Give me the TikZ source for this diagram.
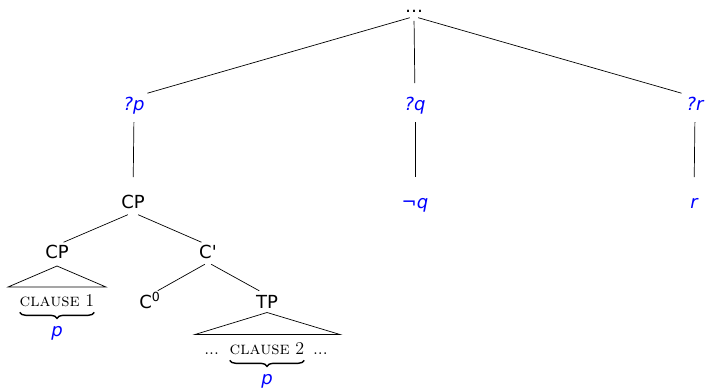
\documentclass[tikz,border=0pt]{standalone}
\usepackage{fontspec}
\newfontfamily\treefont{DejaVu Sans}
\usetikzlibrary{positioning,decorations.pathreplacing}

\begin{document}
\begin{tikzpicture}[
        x=0.025cm,
        y=-0.025cm,
        font={\treefont\fontsize{12.8}{15}\selectfont},
        lbl/.style={inner sep=0pt, outer sep=0pt, anchor=base, text height=9.2pt, text depth=3.2pt},
        var/.style={lbl, blue, font={\treefont\fontsize{12.8}{15}\selectfont\itshape}},
        clause/.style={inner sep=0pt, outer sep=0pt, anchor=base, font={\rmfamily\fontsize{12.8}{15}\selectfont}},
        branch/.style={line width=0.5pt},
        brc/.style={decorate, decoration={brace, mirror, amplitude=4.3pt}, line width=1pt}
    ]
        \useasboundingbox (0,0) rectangle (706,388);

        % question level
        \node[lbl] (top) at (414,12) {…};
        \node[var] (qp) at (134,110) {?p};
        \node[var] (qq) at (415,110) {?q};
        \node[var] (qr) at (695,110) {?r};
        \foreach \n in {qp,qq,qr} {
            \draw[branch, shorten <=0.11cm, shorten >=0.35cm] (top.south) -- (\n.north);
        }

        % answers
        \node[lbl] (cp) at (133,208) {CP};
        \node[var] (nq) at (415,208) {¬q};
        \node[var] (r) at (694,208) {r};
        \draw[branch, shorten <=0.19cm, shorten >=0.45cm] (qp.south) -- (cp.north);
        \draw[branch, shorten <=0.19cm, shorten >=0.45cm] (qq.south) -- (nq.north);
        \draw[branch, shorten <=0.19cm, shorten >=0.45cm] (qr.south) -- (r.north);

        % inner CP
        \node[lbl] (cpl) at (57,258) {CP};
        \node[lbl] (cbar) at (208,258) {C\textquotesingle};
        \draw[branch, shorten <=0.14cm, shorten >=0.18cm] (cp.south) -- (cpl.north);
        \draw[branch, shorten <=0.14cm, shorten >=0.18cm] (cp.south) -- (cbar.north);
        \draw[branch] ([yshift=-2.5pt]cpl.south) -- ++(-49,21) -- ++(98,0) -- cycle;

        \node[lbl] (czero) at (150,308) {C\textsuperscript{0}};
        \node[lbl] (tp) at (267,308) {TP};
        \draw[branch, shorten <=0.09cm, shorten >=0.22cm] (cbar.south) -- (czero.north);
        \draw[branch, shorten <=0.09cm, shorten >=0.22cm] (cbar.south) -- (tp.north);
        \draw[branch] (tp.south) -- ++(-72,22) -- ++(145,0) -- cycle;

        % clauses
        \node[clause] (cla) at (57,306) {\textsc{clause} 1};
        \draw[brc] ([yshift=-4.3pt]cla.south west) -- ([yshift=-4.3pt]cla.south east);
        \node[var] (pa) at (57,336) {p};

        \node[clause] (clb) at (267,354) {\textsc{clause} 2};
        \node[clause, left=0.27cm of clb.base west, anchor=base east] (dl) {...};
        \node[clause, right=0.22cm of clb.base east, anchor=base west] (dr) {...};
        \draw[brc] ([yshift=-4.3pt]clb.south west) -- ([yshift=-4.3pt]clb.south east);
        \node[var] (pb) at (267,384) {p};
    \end{tikzpicture}
\end{document}
